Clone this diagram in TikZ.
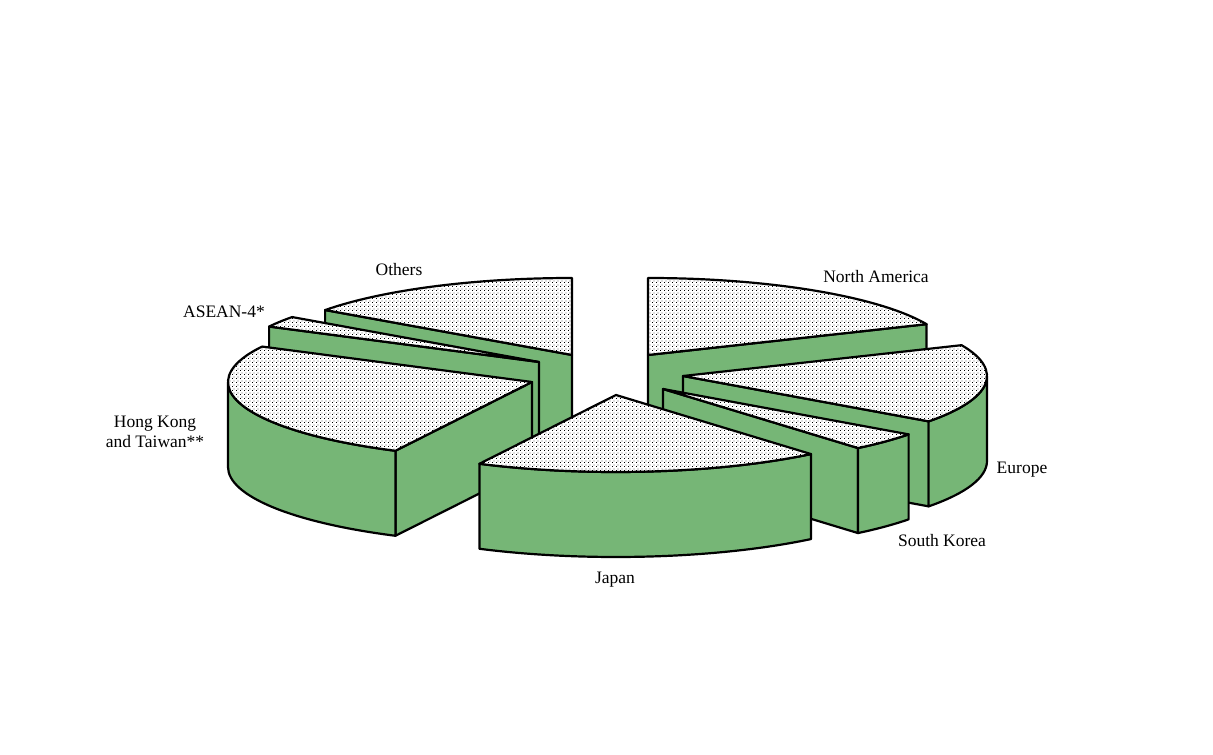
\documentclass[tikz,border=0pt]{standalone}
\usepackage{fontspec}
\setmainfont{Liberation Serif}
\usetikzlibrary{patterns}
\definecolor{sidegreen}{RGB}{118,182,118}
\pgfdeclarepatternformonly{sdots}{\pgfqpoint{0pt}{0pt}}{\pgfqpoint{4pt}{4pt}}{\pgfqpoint{4pt}{4pt}}{%
  \pgfpathrectangle{\pgfqpoint{0pt}{0pt}}{\pgfqpoint{1pt}{1pt}}%
  \pgfpathrectangle{\pgfqpoint{2pt}{2pt}}{\pgfqpoint{1pt}{1pt}}%
  \pgfusepath{fill}}
\tikzset{
  topface/.style={preaction={fill=white}, pattern=sdots, pattern color=black, draw=black, line width=2.2pt, line join=round},
  sideface/.style={fill=sidegreen, draw=black, line width=2.2pt, line join=round},
  lbl/.style={font=\fontsize{17.5}{19.5}\selectfont, align=center, inner sep=0pt}
}
\newcommand\pieTop[4]{\path[topface] (#1,#2) -- ++(#3:304 and 77) arc[start angle=#3, end angle=#4, x radius=304, y radius=77] -- cycle;}
\newcommand\pieFace[3]{\path[sideface] (#1,#2) -- ++(#3:304 and 77) -- ++(0,-85) -- ++({#3+180}:304 and 77) -- cycle;}
\newcommand\pieOuter[4]{\path[sideface] (#1,#2) ++(#3:304 and 77) arc[start angle=#3, end angle=#4, x radius=304, y radius=77] -- ++(0,-85) arc[start angle=#4, end angle=#3, x radius=304, y radius=77] -- cycle;}
\begin{document}
\begin{tikzpicture}[x=1pt, y=1pt]
\useasboundingbox[fill=white] (0,0) rectangle (1213,755);
% Others
\pieFace{572}{400}{144.3}
\pieTop{572}{400}{90}{144.3}
% North America
\pieFace{648}{400}{23.6}
\pieTop{648}{400}{23.6}{90}
% ASEAN-4
\pieFace{539}{393}{152.6}
\pieTop{539}{393}{144.3}{152.6}
% Europe
\pieFace{683}{379}{323.9}
\pieOuter{683}{379}{323.9}{360}
\pieTop{683}{379}{323.9}{383.6}
% Hong Kong and Taiwan
\pieFace{532}{373}{243.3}
\pieOuter{532}{373}{180}{243.3}
\pieTop{532}{373}{152.6}{243.3}
% South Korea
\pieFace{663}{366}{309.9}
\pieOuter{663}{366}{309.9}{323.9}
\pieTop{663}{366}{309.9}{323.9}
% Japan
\pieOuter{616}{360}{243.3}{309.9}
\pieTop{616}{360}{243.3}{309.9}
% labels
\node[lbl] (others) at (399,485) {Others};
\node[lbl] (asean) at (224,443) {ASEAN-4*};
\node[lbl] (hk) at (155,323) {Hong Kong\\and Taiwan**};
\node[lbl] (japan) at (615,175) {Japan};
\node[lbl] (korea) at (942,214) {South Korea};
\node[lbl] (europe) at (1022,285) {Europe};
\node[lbl] (na) at (876,478) {North America};
\end{tikzpicture}
\end{document}
